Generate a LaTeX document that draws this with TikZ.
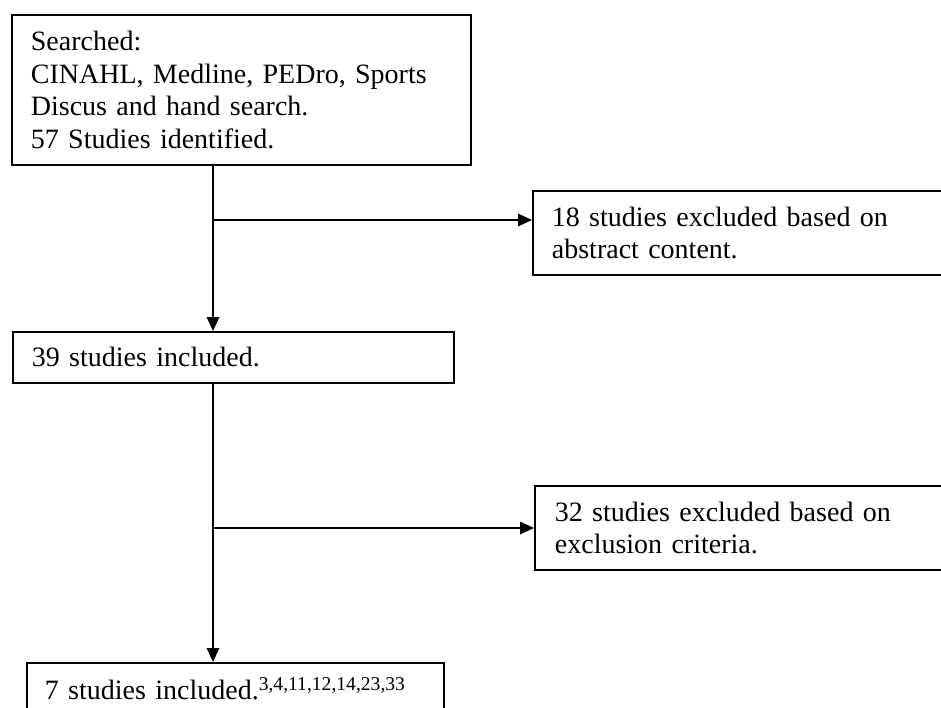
\documentclass[tikz,border=0pt]{standalone}
\usepackage{fontspec}
\setmainfont{Liberation Serif}
\usetikzlibrary{arrows.meta}
\begin{document}
\begin{tikzpicture}[x=1pt,y=-1pt,
  box/.style={draw, line width=1.8pt, rectangle, anchor=north west, inner xsep=19pt, inner ysep=0pt,
    align=left, font=\fontsize{28}{32.5}\selectfont},
  arr/.style={line width=1.8pt, -{Triangle[length=14pt,width=12.5pt]}}]
\useasboundingbox (0,0) rectangle (941,708);
\begin{scope}
\clip (0,0) rectangle (941,708);
\node[box, minimum width=459pt, minimum height=150pt, text width=421pt] (s1) at (11,14)
  {Searched:\\CINAHL, Medline, PEDro, Sports\\Discus and hand search.\\57 Studies identified.};
\node[box, minimum width=441pt, minimum height=51pt, text width=403pt] (s2) at (12,331)
  {39 studies included.};
\node[box, minimum width=428pt, minimum height=84pt, text width=390pt, inner xsep=18pt] (e1) at (532,190)
  {18 studies excluded based on\\abstract content.};
\node[box, minimum width=426pt, minimum height=84pt, text width=386pt, inner xsep=20pt] (e2) at (534,485)
  {32 studies excluded based on\\exclusion criteria.};
\node[box, minimum width=417pt, minimum height=51pt, text width=381pt, inner xsep=18pt] (s3) at (26,662)
  {7 studies included.\textsuperscript{3,4,11,12,14,23,33}};
\coordinate (j1) at (213,220);
\coordinate (j2) at (213,528);
\draw[arr] (j1 |- s1.south) -- (j1 |- s2.north);
\draw[arr] (j1) -- (j1 -| e1.west);
\draw[arr] (j2 |- s2.south) -- (j2 |- s3.north);
\draw[arr] (j2) -- (j2 -| e2.west);
\end{scope}
\end{tikzpicture}
\end{document}
